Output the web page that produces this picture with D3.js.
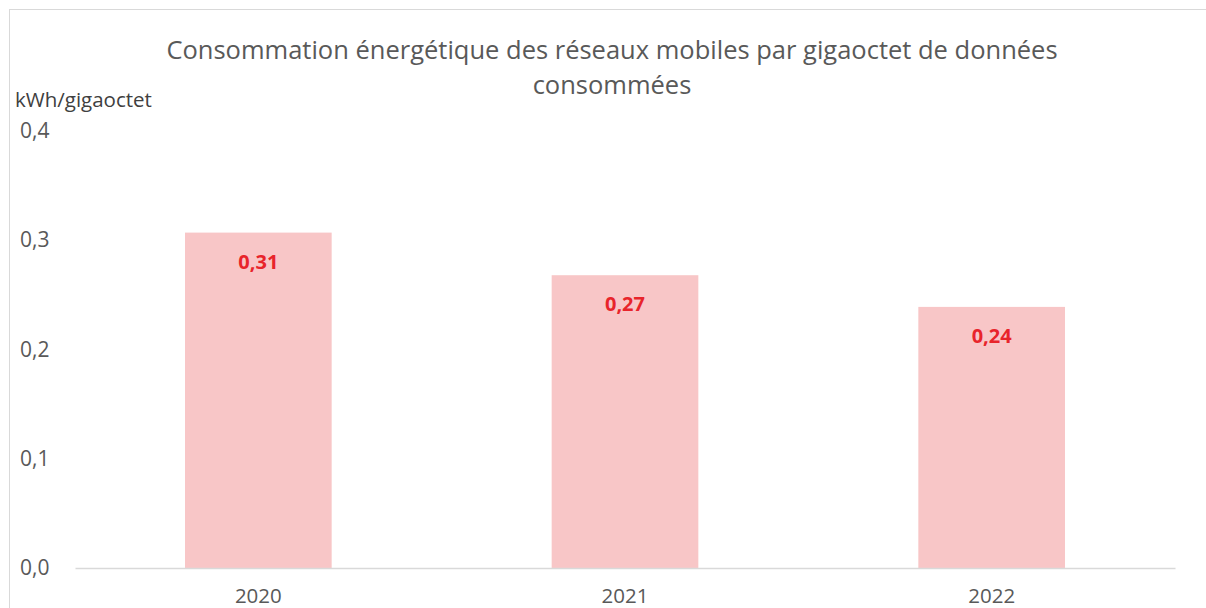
<!DOCTYPE html>
<html>
<head>
<meta charset="utf-8">
<script src="https://cdn.jsdelivr.net/npm/d3@7"></script>
<style>
  body { margin: 0; background: #fff; }
  text { font-family: "Open Sans", "Noto Sans", sans-serif; }
</style>
</head>
<body>
<svg id="chart" width="1206" height="608"></svg>
<script>
// data
const years = ["2020", "2021", "2022"];
const values = [0.307, 0.268, 0.239];
const yTicks = [0, 0.1, 0.2, 0.3, 0.4];
const titleLines = ["Consommation énergétique des réseaux mobiles par gigaoctet de données", "consommées"];
const unitLabel = "kWh/gigaoctet";

const svg = d3.select("#chart");
// plot area edges
const plotLeft = 75, plotRight = 1175, plotTop = 131, plotBottom = 568;

// outer frame (only top and left edges are visible)
svg.append("rect")
  .attr("x", 9.5).attr("y", 9.5)
  .attr("width", 1300).attr("height", 700)
  .attr("fill", "none").attr("stroke", "#d9d9d9");

const x = d3.scaleBand().domain(years).range([plotLeft, plotRight]).paddingInner(0.6).paddingOuter(0.3);
const y = d3.scaleLinear().domain([0, 0.4]).range([plotBottom, plotTop]);

const fmt = v => d3.format(".1f")(v).replace(".", ",");
const fmt2 = v => d3.format(".2f")(v).replace(".", ",");

// bars
svg.append("g").selectAll("rect")
  .data(values)
  .enter().append("rect")
  .attr("x", (d, i) => x(years[i]))
  .attr("y", d => y(d))
  .attr("width", x.bandwidth())
  .attr("height", d => y(0) - y(d))
  .attr("fill", "#f8c6c7");

// value labels inside the bars
svg.append("g").selectAll("text")
  .data(values)
  .enter().append("text")
  .attr("x", (d, i) => x(years[i]) + x.bandwidth() / 2)
  .attr("y", d => y(d) + 36)
  .attr("text-anchor", "middle")
  .attr("font-size", "20px")
  .attr("font-weight", "bold")
  .attr("fill", "#e8242b")
  .text(d => fmt2(d));

// x axis line + year labels
const xAxis = d3.axisBottom(x).tickSize(0).tickPadding(20);
const gx = svg.append("g").attr("transform", `translate(0,${plotBottom})`).call(xAxis);
gx.select(".domain").attr("stroke", "#d9d9d9").attr("stroke-width", 1.5);
gx.selectAll("text").attr("font-size", "20.5px").attr("fill", "#595959")
  .attr("font-family", "Open Sans, sans-serif");

// y tick labels (no axis line)
const yAxis = d3.axisLeft(y).tickValues(yTicks).tickFormat(fmt).tickSize(0).tickPadding(0);
const gy = svg.append("g").attr("transform", "translate(20,0)").call(yAxis);
gy.select(".domain").remove();
gy.selectAll("text").attr("text-anchor", "start").attr("font-size", "21px").attr("fill", "#595959")
  .attr("font-family", "Open Sans, sans-serif");

// unit label
svg.append("text")
  .attr("x", 15).attr("y", 107)
  .attr("font-size", "20.5px").attr("fill", "#404040")
  .text(unitLabel);

// title
svg.append("g").selectAll("text")
  .data(titleLines)
  .enter().append("text")
  .attr("x", 612)
  .attr("y", (d, i) => 59 + i * 35)
  .attr("text-anchor", "middle")
  .attr("font-size", "25.5px")
  .attr("fill", "#595959")
  .text(d => d);
</script>
</body>
</html>
